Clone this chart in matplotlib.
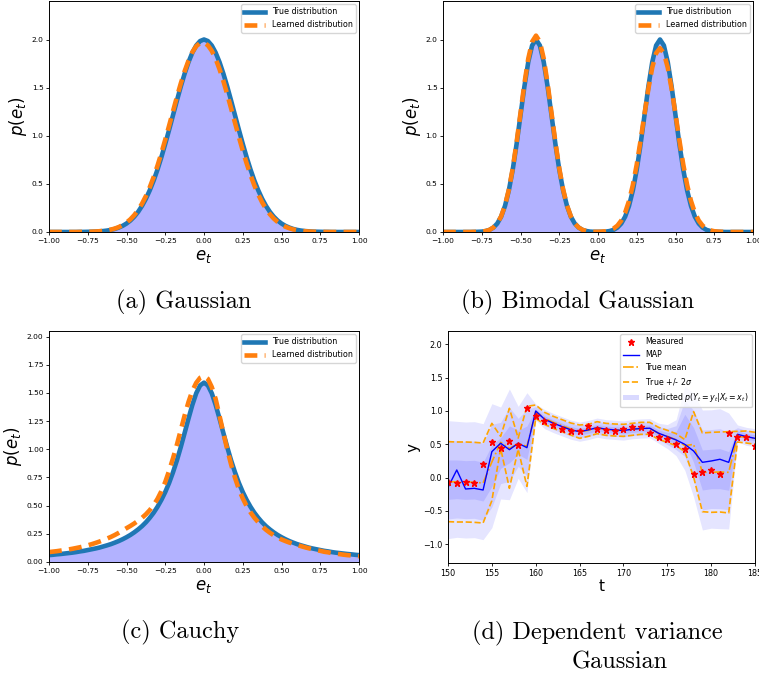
import numpy as np
import matplotlib
matplotlib.use("Agg")
import matplotlib.pyplot as plt
from matplotlib.patches import Patch

# ---------------- data: density panels (x grid -1..1, step 0.025) ----------------
e_grid = np.linspace(-1.0, 1.0, 81)

gauss_true = [0, 0, 0, 0, 0, 0, 0, 0,
              0.001, 0.001, 0.002, 0.003, 0.004, 0.007, 0.010, 0.015, 0.022, 0.032, 0.046, 0.064,
              0.088, 0.119, 0.159, 0.209, 0.271, 0.345, 0.433, 0.534, 0.649, 0.777, 0.916, 1.062,
              1.213, 1.364, 1.510, 1.645, 1.765, 1.864, 1.938, 1.984, 2.000,
              1.984, 1.938, 1.864, 1.765, 1.645, 1.510, 1.364, 1.213, 1.062, 0.916, 0.777, 0.649,
              0.534, 0.433, 0.345, 0.271, 0.209, 0.159, 0.119, 0.088, 0.064, 0.046, 0.032, 0.022,
              0.015, 0.010, 0.007, 0.004, 0.003, 0.002, 0.001, 0.001,
              0, 0, 0, 0, 0, 0, 0, 0]

gauss_learned = [0, 0, 0, 0, 0, 0, 0, 0,
                 0.001, 0.001, 0.002, 0.003, 0.005, 0.008, 0.012, 0.017, 0.025, 0.036, 0.051, 0.072,
                 0.098, 0.132, 0.175, 0.229, 0.294, 0.373, 0.464, 0.570, 0.689, 0.819, 0.959, 1.105,
                 1.254, 1.402, 1.542, 1.670, 1.780, 1.869, 1.931, 1.964, 1.968,
                 1.940, 1.883, 1.800, 1.693, 1.569, 1.430, 1.284, 1.135, 0.988, 0.846, 0.714, 0.593,
                 0.484, 0.390, 0.309, 0.241, 0.185, 0.140, 0.104, 0.076, 0.055, 0.039, 0.027, 0.019,
                 0.013, 0.008, 0.005, 0.003, 0.002, 0.001, 0.001,
                 0, 0, 0, 0, 0, 0, 0, 0, 0]

bimodal_true = [0, 0, 0, 0, 0, 0, 0, 0,
                0.001, 0.002, 0.004, 0.010, 0.022, 0.046, 0.088, 0.159, 0.271, 0.433, 0.649, 0.916,
                1.213, 1.510, 1.765, 1.938, 2.000, 1.938, 1.765, 1.510, 1.213, 0.916, 0.649, 0.433,
                0.271, 0.159, 0.088, 0.046, 0.022, 0.010, 0.004, 0.002, 0.002,
                0.002, 0.004, 0.010, 0.022, 0.046, 0.088, 0.159, 0.271, 0.433, 0.649, 0.916, 1.213,
                1.510, 1.765, 1.938, 2.000, 1.938, 1.765, 1.510, 1.213, 0.916, 0.649, 0.433, 0.271,
                0.159, 0.088, 0.046, 0.022, 0.010, 0.004, 0.002, 0.001,
                0, 0, 0, 0, 0, 0, 0, 0]

bimodal_learned = [0, 0, 0, 0, 0, 0, 0, 0,
                   0.001, 0.002, 0.004, 0.010, 0.022, 0.047, 0.090, 0.162, 0.276, 0.442, 0.662, 0.934,
                   1.237, 1.540, 1.800, 1.977, 2.040, 1.977, 1.800, 1.540, 1.237, 0.934, 0.662, 0.442,
                   0.276, 0.162, 0.090, 0.047, 0.022, 0.010, 0.004, 0.002, 0.002,
                   0.004, 0.008, 0.017, 0.035, 0.066, 0.118, 0.201, 0.322, 0.489, 0.702, 0.953, 1.224,
                   1.487, 1.709, 1.858, 1.910, 1.858, 1.709, 1.487, 1.224, 0.953, 0.702, 0.489, 0.322,
                   0.201, 0.118, 0.066, 0.035, 0.017, 0.008, 0.004, 0.002, 0.001,
                   0, 0, 0, 0, 0, 0, 0]

cauchy_true = [0.061, 0.064, 0.068, 0.071, 0.075, 0.079, 0.083, 0.088, 0.094, 0.099, 0.106, 0.113,
               0.120, 0.128, 0.138, 0.148, 0.159, 0.172, 0.186, 0.202, 0.220, 0.240, 0.263, 0.289,
               0.318, 0.352, 0.392, 0.437, 0.490, 0.551, 0.621, 0.702, 0.796, 0.901, 1.019, 1.145,
               1.273, 1.395, 1.498, 1.567, 1.592,
               1.567, 1.498, 1.395, 1.273, 1.145, 1.019, 0.901, 0.796, 0.702, 0.621, 0.551, 0.490,
               0.437, 0.392, 0.352, 0.318, 0.289, 0.263, 0.240, 0.220, 0.202, 0.186, 0.172, 0.159,
               0.148, 0.138, 0.128, 0.120, 0.113, 0.106, 0.099, 0.094, 0.088, 0.083, 0.079, 0.075,
               0.071, 0.068, 0.064, 0.061]

cauchy_learned = [0.088, 0.092, 0.096, 0.101, 0.106, 0.111, 0.117, 0.124, 0.131, 0.139, 0.148, 0.158,
                  0.169, 0.181, 0.194, 0.208, 0.223, 0.240, 0.259, 0.279, 0.300, 0.320, 0.342, 0.366,
                  0.392, 0.423, 0.460, 0.505, 0.560, 0.628, 0.710, 0.810, 0.920, 1.040, 1.170, 1.300,
                  1.420, 1.520, 1.590, 1.635, 1.650,
                  1.625, 1.553, 1.447, 1.298, 1.145, 0.999, 0.865, 0.748, 0.646, 0.565, 0.496, 0.441,
                  0.393, 0.353, 0.317, 0.286, 0.260, 0.237, 0.217, 0.200, 0.186, 0.173, 0.162, 0.151,
                  0.141, 0.131, 0.122, 0.114, 0.106, 0.099, 0.091, 0.086, 0.079, 0.074, 0.070, 0.065,
                  0.061, 0.058, 0.054, 0.051]

# ---------------- data: dependent variance panel ----------------
t_steps = list(range(150, 186))
measured = [-0.07, -0.08, -0.065, -0.085, 0.205, 0.536, 0.45, 0.546, 0.49, 1.04,
            0.927, 0.857, 0.797, 0.73, 0.707, 0.70, 0.77, 0.727, 0.72, 0.707,
            0.727, 0.757, 0.767, 0.667, 0.617, 0.576, 0.51, 0.436, 0.05, 0.085,
            0.11, 0.06, 0.667, 0.617, 0.607, 0.48]
map_est = [-0.145, 0.115, -0.17, -0.16, -0.185, 0.39, 0.516, 0.42, 0.516, 0.45,
           1.0, 0.877, 0.817, 0.767, 0.717, 0.69, 0.717, 0.75, 0.727, 0.717,
           0.707, 0.727, 0.737, 0.742, 0.667, 0.617, 0.566, 0.50, 0.40, 0.23,
           0.25, 0.276, 0.23, 0.65, 0.617, 0.59]
true_mean = [-0.06, -0.065, -0.065, -0.07, -0.08, 0.235, 0.53, 0.44, 0.51, 0.47,
             0.99, 0.89, 0.83, 0.78, 0.73, 0.69, 0.71, 0.75, 0.725, 0.715,
             0.71, 0.725, 0.74, 0.74, 0.665, 0.62, 0.57, 0.48, 0.50, 0.08,
             0.08, 0.085, 0.08, 0.615, 0.61, 0.59]
true_sd = [0.30, 0.30, 0.30, 0.30, 0.30, 0.29, 0.045, 0.30, 0.042, 0.30,
           0.05, 0.045, 0.045, 0.045, 0.045, 0.05, 0.045, 0.045, 0.045, 0.045,
           0.045, 0.045, 0.045, 0.045, 0.045, 0.045, 0.045, 0.045, 0.245, 0.295,
           0.30, 0.30, 0.305, 0.04, 0.045, 0.045]
pred_center = [-0.03, -0.025, -0.035, -0.03, -0.06, 0.18, 0.37, 0.50, 0.53, 0.525,
               0.985, 0.88, 0.82, 0.77, 0.72, 0.69, 0.715, 0.75, 0.727, 0.717,
               0.707, 0.727, 0.737, 0.742, 0.667, 0.617, 0.60, 0.74, 0.49, 0.115,
               0.13, 0.135, 0.10, 0.665, 0.62, 0.60]
pred_sd = [0.295, 0.29, 0.29, 0.29, 0.29, 0.31, 0.23, 0.277, 0.18, 0.25,
           0.04, 0.048, 0.048, 0.048, 0.048, 0.048, 0.048, 0.048, 0.048, 0.048,
           0.048, 0.048, 0.048, 0.048, 0.05, 0.06, 0.09, 0.21, 0.26, 0.30,
           0.296, 0.30, 0.29, 0.042, 0.045, 0.045]

# ---------------- figure ----------------
W, H = 759, 676
fig = plt.figure(figsize=(W / 100, H / 100), dpi=100)


def px_axes(left, top, right, bottom):
    return fig.add_axes([left / W, 1 - bottom / H, (right - left) / W, (bottom - top) / H])


ax_a = px_axes(49, 1, 359, 232)
ax_b = px_axes(443, 1, 753, 232)
ax_c = px_axes(49, 331, 359, 562)
ax_d = px_axes(448, 331, 755, 563)

TRUE_C = "#1f77b4"
LEARN_C = "#ff7f0e"


def density_panel(ax, true_vals, learned_vals, ylim, yticks):
    ax.fill_between(e_grid, 0, true_vals, color="blue", alpha=0.3, lw=0)
    ax.plot(e_grid, true_vals, color=TRUE_C, lw=3.3, label="True distribution")
    ax.plot(e_grid, learned_vals, color=LEARN_C, lw=3.3, ls=(0, (2.8, 1.6)),
            label="Learned distribution")
    ax.set_xlim(-1, 1)
    ax.set_ylim(*ylim)
    ax.set_xticks(np.arange(-1.0, 1.001, 0.25))
    ax.set_yticks(yticks)
    ax.tick_params(labelsize=5.4, length=2.5, width=0.6, pad=1.5)
    ax.set_xlabel(r"$e_t$", fontsize=12, labelpad=2.5)
    ax.set_ylabel(r"$p(e_t)$", fontsize=12, labelpad=2)
    ax.legend(loc="upper right", fontsize=5.8, handlelength=2.6, borderaxespad=0.4)
    for s in ax.spines.values():
        s.set_linewidth(0.7)


density_panel(ax_a, gauss_true, gauss_learned, (0, 2.4), np.arange(0, 2.01, 0.5))
density_panel(ax_b, bimodal_true, bimodal_learned, (0, 2.4), np.arange(0, 2.01, 0.5))
density_panel(ax_c, cauchy_true, cauchy_learned, (0, 2.05), np.arange(0, 2.01, 0.25))

# panel d
tt = np.array(t_steps)
pc = np.array(pred_center)
ps = np.array(pred_sd)
for k in (3, 2, 1):
    ax_d.fill_between(tt, pc - k * ps, pc + k * ps, color="blue", alpha=0.1, lw=0)
tm = np.array(true_mean)
tsd = np.array(true_sd)
ax_d.plot(tt, tm + 2 * tsd, color="orange", ls="--", lw=1.2)
ax_d.plot(tt, tm - 2 * tsd, color="orange", ls="--", lw=1.2)
ax_d.plot(tt, tm, color="orange", ls="-.", lw=1.2)
ax_d.plot(tt, map_est, color="blue", lw=1.0)
ax_d.plot(tt, measured, ls="none", marker="*", color="red", markersize=5)

handles = [
    plt.Line2D([], [], ls="none", marker="*", color="red", markersize=5),
    plt.Line2D([], [], color="blue", lw=1.0),
    plt.Line2D([], [], color="orange", ls="-.", lw=1.2),
    plt.Line2D([], [], color="orange", ls="--", lw=1.2),
    Patch(facecolor="blue", alpha=0.15, lw=0),
]
labels = ["Measured", "MAP", "True mean", r"True +/- 2$\sigma$",
          r"Predicted $p(Y_t = y_t | X_t = x_t)$"]
ax_d.legend(handles, labels, loc="upper right", fontsize=5.7, borderaxespad=0.4)
ax_d.set_xlim(150, 185)
ax_d.set_ylim(-1.28, 2.2)
ax_d.set_xticks(np.arange(150, 186, 5))
ax_d.set_yticks(np.arange(-1.0, 2.01, 0.5))
ax_d.tick_params(labelsize=5.8, length=2.5, width=0.6, pad=1.5)
ax_d.set_xlabel("t", fontsize=11, labelpad=1)
ax_d.set_ylabel("y", fontsize=11, labelpad=2)
for s in ax_d.spines.values():
    s.set_linewidth(0.7)

# captions
cap = dict(fontfamily="cmr10", fontsize=17.5, ha="center", va="center")
fig.text(183.5 / W, 1 - 302 / H, "(a) Gaussian", **cap)
fig.text(578 / W, 1 - 302 / H, "(b) Bimodal Gaussian", **cap)
fig.text(180 / W, 1 - 632 / H, "(c) Cauchy", **cap)
fig.text(597 / W, 1 - 633 / H, "(d) Dependent variance", **cap)
fig.text(620 / W, 1 - 662 / H, "Gaussian", **cap)

fig.savefig("out.png", dpi=100)
